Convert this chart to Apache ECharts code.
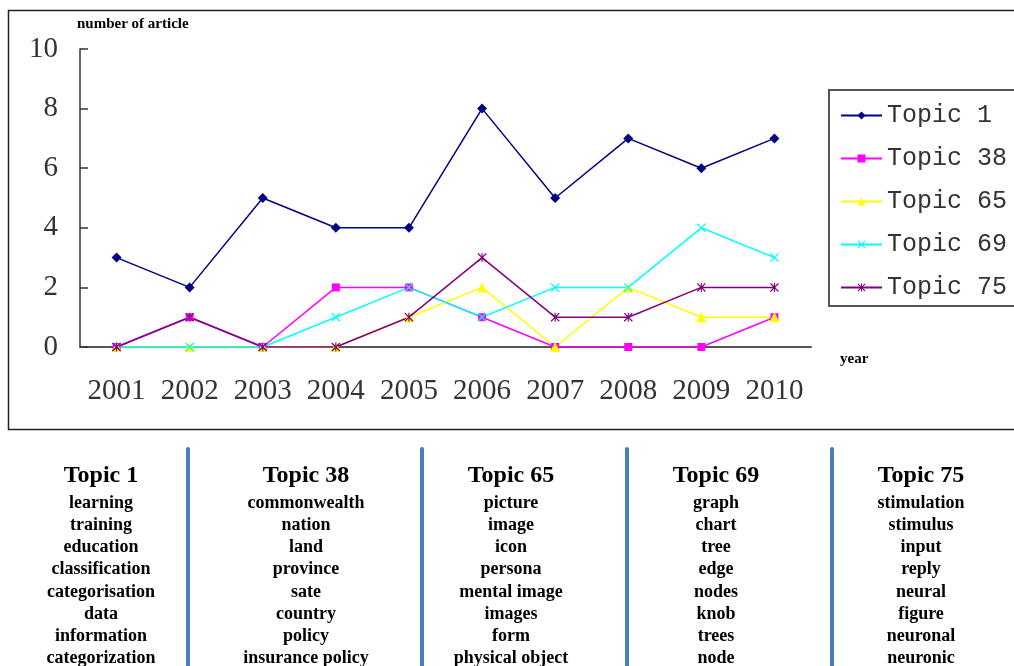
<!DOCTYPE html>
<html>
<head>
<meta charset="utf-8">
<script src="https://cdn.jsdelivr.net/npm/echarts@6/dist/echarts.min.js"></script>
<style>
  html, body { margin: 0; padding: 0; background: #fff; }
</style>
</head>
<body>
<div id="main" style="width: 1014px;height:666px;"></div>
<script type="text/javascript">
    // data
    var years = ['2001', '2002', '2003', '2004', '2005', '2006', '2007', '2008', '2009', '2010'];
    var topicNames = ['Topic 1', 'Topic 38', 'Topic 65', 'Topic 69', 'Topic 75'];
    var topic1 = [3, 2, 5, 4, 4, 8, 5, 7, 6, 7];
    var topic38 = [0, 1, 0, 2, 2, 1, 0, 0, 0, 1];
    var topic65 = [0, 0, 0, 0, 1, 2, 0, 2, 1, 1];
    var topic69 = [0, 0, 0, 1, 2, 1, 2, 2, 4, 3];
    var topic75 = [0, 1, 0, 0, 1, 3, 1, 1, 2, 2];

    // word lists under the chart
    var words1 = ['learning', 'training', 'education', 'classification', 'categorisation', 'data', 'information', 'categorization'];
    var words38 = ['commonwealth', 'nation', 'land', 'province', 'sate', 'country', 'policy', 'insurance policy'];
    var words65 = ['picture', 'image', 'icon', 'persona', 'mental image', 'images', 'form', 'physical object'];
    var words69 = ['graph', 'chart', 'tree', 'edge', 'nodes', 'knob', 'trees', 'node'];
    var words75 = ['stimulation', 'stimulus', 'input', 'reply', 'neural', 'figure', 'neuronal', 'neuronic'];

    var colors = ['#000080', '#ff00ff', '#ffff00', '#00ffff', '#800080'];
    var crossPath = 'path://M0,1L1,0L5,4L9,0L10,1L6,5L10,9L9,10L5,6L1,10L0,9L4,5Z';
    var starPath = 'path://M0,1L1,0L5,4L9,0L10,1L6,5L10,9L9,10L5,6L1,10L0,9L4,5ZM4.4,0L5.6,0L5.6,10L4.4,10Z';
    var symbols = ['diamond', 'rect', 'triangle', crossPath, starPath];
    var sizes = [10, 8, 10, 9, 9];
    var allData = [topic1, topic38, topic65, topic69, topic75];

    var series = [];
    for (var i = 0; i < topicNames.length; i++) {
        series.push({
            name: topicNames[i],
            type: 'line',
            data: allData[i],
            symbol: symbols[i],
            symbolSize: sizes[i],
            showAllSymbol: true,
            lineStyle: { color: colors[i], width: 1.5 },
            itemStyle: { color: colors[i] },
            emphasis: { disabled: true }
        });
    }

    var columns = [
        { x: 101, title: topicNames[0], words: words1 },
        { x: 306, title: topicNames[1], words: words38 },
        { x: 511, title: topicNames[2], words: words65 },
        { x: 716, title: topicNames[3], words: words69 },
        { x: 921, title: topicNames[4], words: words75 }
    ];

    var graphics = [
        // frame around the chart
        { type: 'rect', shape: { x: 8.5, y: 10.5, width: 1020, height: 419 },
          style: { fill: 'none', stroke: '#222', lineWidth: 1.5 }, z: -1 },
        { type: 'text', left: 77, top: 17,
          style: { text: 'number of article', font: 'bold 15px "Liberation Serif"', fill: '#000' } },
        { type: 'text', left: 840, top: 352,
          style: { text: 'year', font: 'bold 15px "Liberation Serif"', fill: '#000' } }
    ];
    // blue separators
    [188, 422, 627, 832].forEach(function (x) {
        graphics.push({ type: 'line', shape: { x1: x, y1: 449, x2: x, y2: 670 },
            style: { stroke: '#4a7ebb', lineWidth: 4, lineCap: 'round' } });
    });
    columns.forEach(function (c) {
        graphics.push({ type: 'text', x: c.x, y: 476,
            style: { text: c.title, font: 'bold 24px "Liberation Serif"', fill: '#000',
                     align: 'center', verticalAlign: 'middle' } });
        graphics.push({ type: 'text', x: c.x, y: 492,
            style: { text: c.words.join('\n'), font: 'bold 18px "Liberation Serif"', fill: '#000',
                     align: 'center', verticalAlign: 'top', lineHeight: 22.2 } });
    });

    var myChart = echarts.init(document.getElementById('main'));

    var option = {
        animation: false,
        backgroundColor: '#fff',
        grid: { left: 80, top: 49, right: 203, bottom: 319, containLabel: false },
        legend: {
            orient: 'vertical',
            left: 829,
            top: 90,
            padding: [13, 40, 6, 11],
            itemGap: 18,
            itemWidth: 41,
            itemHeight: 10,
            borderColor: '#555',
            borderWidth: 2,
            data: topicNames,
            textStyle: { fontFamily: 'Liberation Mono', fontSize: 25, color: '#333', padding: [0, 0, 0, 0] }
        },
        xAxis: {
            type: 'category',
            data: years,
            boundaryGap: true,
            axisLine: { lineStyle: { color: '#555', width: 2 } },
            axisTick: { inside: true, length: 7, lineStyle: { color: '#333', width: 1.5 } },
            axisLabel: { interval: 0, margin: 30, fontFamily: 'Liberation Serif', fontSize: 29, color: '#333' },
            splitLine: { show: false }
        },
        yAxis: {
            type: 'value',
            min: 0,
            max: 10,
            interval: 2,
            axisLine: { show: true, lineStyle: { color: '#333', width: 1.5 } },
            axisTick: { show: true, inside: true, length: 8, lineStyle: { color: '#333', width: 1.5 } },
            axisLabel: { margin: 22, fontFamily: 'Liberation Serif', fontSize: 29, color: '#333' },
            splitLine: { show: false }
        },
        graphic: graphics,
        series: series
    };

    myChart.setOption(option);
</script>
</body>
</html>
